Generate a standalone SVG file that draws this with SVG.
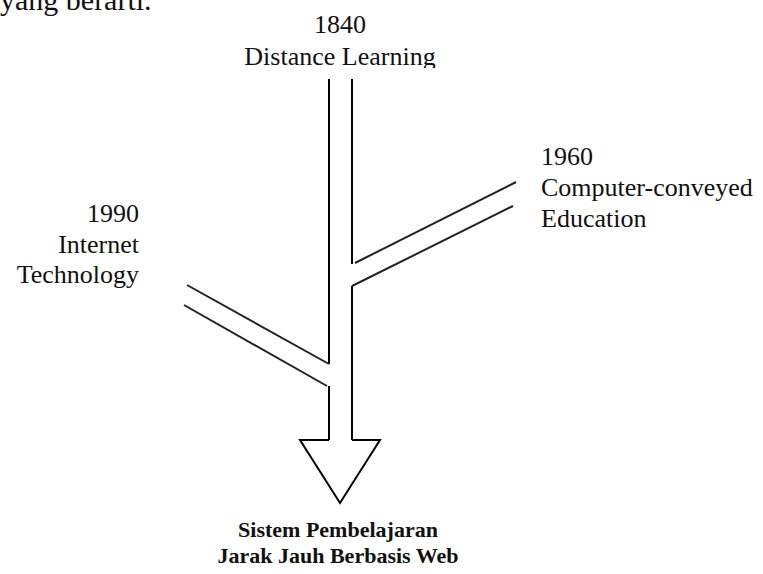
<svg xmlns="http://www.w3.org/2000/svg" width="763" height="574" viewBox="0 0 763 574">
<style>
  .t { font-family: "Liberation Serif", "Times New Roman", serif; font-size: 26px; fill: #111; }
  .b { font-family: "Liberation Serif", "Times New Roman", serif; font-size: 22px; font-weight: bold; fill: #111; }
  .ln { stroke: #000; stroke-width: 2; fill: none; }
  .dg { stroke: #222; stroke-width: 2; fill: none; }
</style>
<defs>
  <clipPath id="topclip"><rect x="0" y="0" width="763" height="68"/></clipPath>
</defs>
<rect width="763" height="574" fill="#fff"/>
<text class="t" x="0" y="10" style="font-size:30px">yang berarti.</text>
<g id="node-1840" clip-path="url(#topclip)">
  <text class="t" x="340" y="33" text-anchor="middle">1840</text>
  <text class="t" x="340" y="65" text-anchor="middle">Distance Learning</text>
</g>
<g id="node-1960">
  <text class="t" x="541" y="165">1960</text>
  <text class="t" x="541" y="196">Computer-conveyed</text>
  <text class="t" x="541" y="227">Education</text>
</g>
<g id="node-1990">
  <text class="t" x="139" y="222" text-anchor="end">1990</text>
  <text class="t" x="139" y="253" text-anchor="end">Internet</text>
  <text class="t" x="139" y="283" text-anchor="end">Technology</text>
</g>
<g id="connectors">
  <path class="ln" d="M329,79 V364 M329,386 V440 M352,79 V264 M352,286 V440"/>
  <path class="dg" d="M355,263 L516,182 M352,286 L513,206"/>
  <path class="dg" d="M187,285 L329,364 M184,305 L327,386"/>
  <path class="ln" d="M329,440 H300 L340,503 L380,440 H352"/>
</g>
<g id="node-result">
  <text class="b" x="338" y="537" text-anchor="middle">Sistem Pembelajaran</text>
  <text class="b" x="338" y="563" text-anchor="middle">Jarak Jauh Berbasis Web</text>
</g>
</svg>
